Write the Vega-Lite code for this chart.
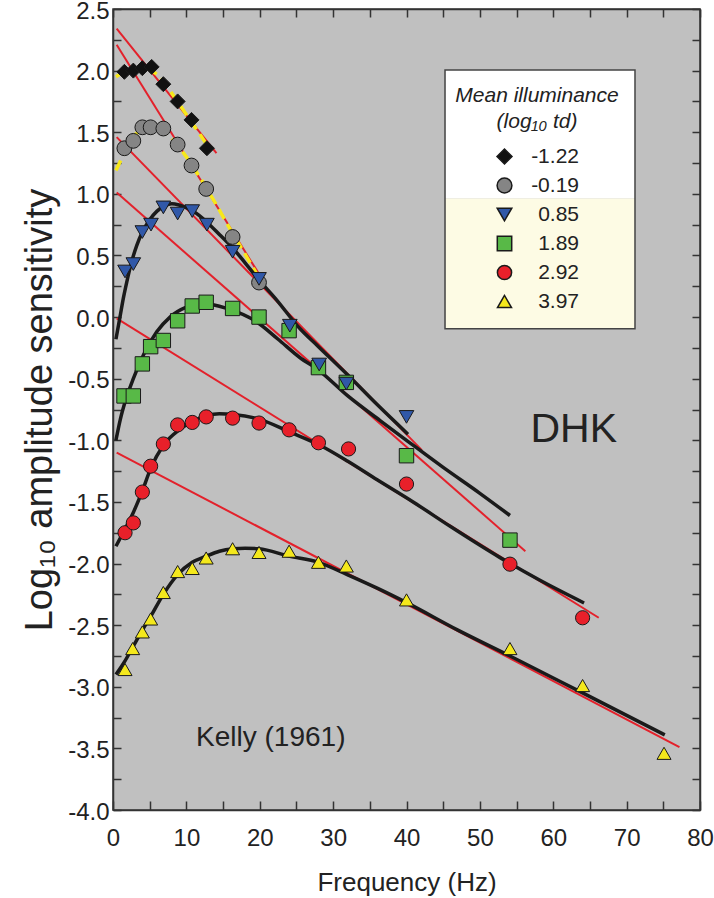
{
  "$schema": "https://vega.github.io/schema/vega-lite/v6.json",
  "width": 587,
  "height": 801,
  "autosize": {"type": "none"},
  "padding": {"left": 113, "top": 9, "right": 14, "bottom": 88},
  "background": "white",
  "config": {
    "font": "Liberation Sans",
    "view": {"fill": "#c0c0c0", "stroke": "#333333", "strokeWidth": 1.5},
    "axis": {"domainColor": "#333333", "domainWidth": 1.5, "tickColor": "#333333", "tickWidth": 1.5, "grid": false, "labelFont": "Liberation Sans", "titleFont": "Liberation Sans", "labelColor": "#222222", "titleColor": "#222222", "titleFontWeight": "normal", "labelFlush": false, "labelOverlap": false}
  },
  "datasets": {
    "red": [
      {"id": "A", "f": 0.5, "s": 2.34}, {"id": "A", "f": 14.1, "s": 1.33},
      {"id": "B", "f": 0.5, "s": 2.21}, {"id": "B", "f": 20.2, "s": 0.32},
      {"id": "C", "f": 0.5, "s": 1.46}, {"id": "C", "f": 42.1, "s": -1.08},
      {"id": "D", "f": 0.5, "s": 1.01}, {"id": "D", "f": 56.2, "s": -1.9},
      {"id": "E", "f": 0.5, "s": -0.01}, {"id": "E", "f": 66.2, "s": -2.44},
      {"id": "F", "f": 0.5, "s": -1.1}, {"id": "F", "f": 77.2, "s": -3.49}
    ],
    "dash": [
      {"id": "A", "f": 0.4, "s": 1.95}, {"id": "A", "f": 1.5, "s": 1.99}, {"id": "A", "f": 3, "s": 2.02}, {"id": "A", "f": 4.5, "s": 2.03}, {"id": "A", "f": 6, "s": 1.97}, {"id": "A", "f": 7.5, "s": 1.86}, {"id": "A", "f": 9, "s": 1.73}, {"id": "A", "f": 10.5, "s": 1.6}, {"id": "A", "f": 12, "s": 1.47}, {"id": "A", "f": 13.2, "s": 1.36},
      {"id": "B", "f": 0.4, "s": 1.19}, {"id": "B", "f": 1.2, "s": 1.29}, {"id": "B", "f": 2, "s": 1.39}, {"id": "B", "f": 3, "s": 1.48}, {"id": "B", "f": 4, "s": 1.53}, {"id": "B", "f": 5, "s": 1.555}, {"id": "B", "f": 6, "s": 1.55}, {"id": "B", "f": 7, "s": 1.51}, {"id": "B", "f": 8, "s": 1.45}, {"id": "B", "f": 9, "s": 1.38}, {"id": "B", "f": 10, "s": 1.3}, {"id": "B", "f": 11, "s": 1.21}, {"id": "B", "f": 12, "s": 1.12}, {"id": "B", "f": 14, "s": 0.92}, {"id": "B", "f": 16, "s": 0.71}, {"id": "B", "f": 18, "s": 0.51}, {"id": "B", "f": 20, "s": 0.31}
    ],
    "black": [
      {"id": "C", "f": 0.4, "s": -0.18}, {"id": "C", "f": 0.95, "s": 0.0}, {"id": "C", "f": 1.4, "s": 0.15}, {"id": "C", "f": 1.86, "s": 0.28}, {"id": "C", "f": 2.5, "s": 0.44}, {"id": "C", "f": 3.23, "s": 0.58}, {"id": "C", "f": 4, "s": 0.69}, {"id": "C", "f": 5, "s": 0.79}, {"id": "C", "f": 6, "s": 0.86}, {"id": "C", "f": 7, "s": 0.9}, {"id": "C", "f": 8, "s": 0.92}, {"id": "C", "f": 9, "s": 0.91}, {"id": "C", "f": 10.9, "s": 0.86}, {"id": "C", "f": 12.8, "s": 0.77}, {"id": "C", "f": 14.5, "s": 0.67}, {"id": "C", "f": 16.4, "s": 0.555}, {"id": "C", "f": 18, "s": 0.44}, {"id": "C", "f": 19.9, "s": 0.3}, {"id": "C", "f": 22, "s": 0.16}, {"id": "C", "f": 25.5, "s": -0.095}, {"id": "C", "f": 28, "s": -0.24}, {"id": "C", "f": 32, "s": -0.47}, {"id": "C", "f": 36, "s": -0.71}, {"id": "C", "f": 40.2, "s": -0.95},
      {"id": "D", "f": 0.4, "s": -1.0}, {"id": "D", "f": 1.0, "s": -0.83}, {"id": "D", "f": 1.64, "s": -0.69}, {"id": "D", "f": 2.77, "s": -0.5}, {"id": "D", "f": 4.13, "s": -0.31}, {"id": "D", "f": 5.96, "s": -0.12}, {"id": "D", "f": 7.77, "s": 0.0}, {"id": "D", "f": 10, "s": 0.08}, {"id": "D", "f": 12.3, "s": 0.11}, {"id": "D", "f": 15.5, "s": 0.07}, {"id": "D", "f": 19.6, "s": -0.04}, {"id": "D", "f": 22.5, "s": -0.18}, {"id": "D", "f": 25.5, "s": -0.33}, {"id": "D", "f": 28, "s": -0.43}, {"id": "D", "f": 32, "s": -0.64}, {"id": "D", "f": 36.4, "s": -0.84}, {"id": "D", "f": 40, "s": -1.0}, {"id": "D", "f": 45, "s": -1.22}, {"id": "D", "f": 50, "s": -1.43}, {"id": "D", "f": 54.1, "s": -1.61},
      {"id": "E", "f": 0.4, "s": -1.86}, {"id": "E", "f": 1.64, "s": -1.72}, {"id": "E", "f": 2.77, "s": -1.585}, {"id": "E", "f": 4.0, "s": -1.41}, {"id": "E", "f": 5.13, "s": -1.23}, {"id": "E", "f": 6.86, "s": -1.04}, {"id": "E", "f": 9.13, "s": -0.91}, {"id": "E", "f": 11, "s": -0.84}, {"id": "E", "f": 12.77, "s": -0.8}, {"id": "E", "f": 14.5, "s": -0.785}, {"id": "E", "f": 16.4, "s": -0.79}, {"id": "E", "f": 20, "s": -0.83}, {"id": "E", "f": 24, "s": -0.93}, {"id": "E", "f": 28.2, "s": -1.04}, {"id": "E", "f": 32, "s": -1.17}, {"id": "E", "f": 36, "s": -1.32}, {"id": "E", "f": 40.9, "s": -1.5}, {"id": "E", "f": 46, "s": -1.7}, {"id": "E", "f": 52.7, "s": -1.95}, {"id": "E", "f": 58, "s": -2.13}, {"id": "E", "f": 64.2, "s": -2.32},
      {"id": "F", "f": 0.4, "s": -2.9}, {"id": "F", "f": 1.64, "s": -2.79}, {"id": "F", "f": 2.77, "s": -2.67}, {"id": "F", "f": 4.0, "s": -2.54}, {"id": "F", "f": 5.13, "s": -2.43}, {"id": "F", "f": 6.86, "s": -2.25}, {"id": "F", "f": 8.81, "s": -2.09}, {"id": "F", "f": 10.8, "s": -1.99}, {"id": "F", "f": 12.7, "s": -1.94}, {"id": "F", "f": 14.5, "s": -1.9}, {"id": "F", "f": 16.4, "s": -1.88}, {"id": "F", "f": 18, "s": -1.875}, {"id": "F", "f": 19.9, "s": -1.88}, {"id": "F", "f": 24, "s": -1.94}, {"id": "F", "f": 28, "s": -1.99}, {"id": "F", "f": 32.3, "s": -2.1}, {"id": "F", "f": 36, "s": -2.2}, {"id": "F", "f": 40, "s": -2.317}, {"id": "F", "f": 47, "s": -2.54}, {"id": "F", "f": 54.1, "s": -2.75}, {"id": "F", "f": 64, "s": -3.05}, {"id": "F", "f": 75.2, "s": -3.39}
    ],
    "pts": [
      {"lum": "-1.22", "f": 1.55, "s": 1.99}, {"lum": "-1.22", "f": 2.77, "s": 2.0}, {"lum": "-1.22", "f": 4.0, "s": 2.02}, {"lum": "-1.22", "f": 5.27, "s": 2.03}, {"lum": "-1.22", "f": 6.86, "s": 1.89}, {"lum": "-1.22", "f": 8.81, "s": 1.75}, {"lum": "-1.22", "f": 10.7, "s": 1.6}, {"lum": "-1.22", "f": 12.8, "s": 1.37},
      {"lum": "-0.19", "f": 1.55, "s": 1.37}, {"lum": "-0.19", "f": 2.77, "s": 1.43}, {"lum": "-0.19", "f": 4.0, "s": 1.54}, {"lum": "-0.19", "f": 5.13, "s": 1.54}, {"lum": "-0.19", "f": 6.86, "s": 1.53}, {"lum": "-0.19", "f": 8.81, "s": 1.4}, {"lum": "-0.19", "f": 10.7, "s": 1.23}, {"lum": "-0.19", "f": 12.7, "s": 1.04}, {"lum": "-0.19", "f": 16.3, "s": 0.65}, {"lum": "-0.19", "f": 19.9, "s": 0.28},
      {"lum": "1.89", "f": 1.5, "s": -0.64}, {"lum": "1.89", "f": 2.77, "s": -0.64}, {"lum": "1.89", "f": 4.0, "s": -0.38}, {"lum": "1.89", "f": 5.13, "s": -0.24}, {"lum": "1.89", "f": 6.86, "s": -0.19}, {"lum": "1.89", "f": 8.81, "s": -0.03}, {"lum": "1.89", "f": 10.8, "s": 0.09}, {"lum": "1.89", "f": 12.7, "s": 0.12}, {"lum": "1.89", "f": 16.3, "s": 0.07}, {"lum": "1.89", "f": 19.9, "s": 0.0}, {"lum": "1.89", "f": 24.0, "s": -0.11}, {"lum": "1.89", "f": 28.0, "s": -0.41}, {"lum": "1.89", "f": 31.8, "s": -0.53}, {"lum": "1.89", "f": 40.0, "s": -1.125}, {"lum": "1.89", "f": 54.1, "s": -1.81},
      {"lum": "2.92", "f": 1.64, "s": -1.75}, {"lum": "2.92", "f": 2.77, "s": -1.67}, {"lum": "2.92", "f": 4.0, "s": -1.42}, {"lum": "2.92", "f": 5.13, "s": -1.21}, {"lum": "2.92", "f": 6.86, "s": -1.03}, {"lum": "2.92", "f": 8.81, "s": -0.875}, {"lum": "2.92", "f": 10.8, "s": -0.855}, {"lum": "2.92", "f": 12.7, "s": -0.81}, {"lum": "2.92", "f": 16.3, "s": -0.82}, {"lum": "2.92", "f": 19.9, "s": -0.86}, {"lum": "2.92", "f": 24.0, "s": -0.915}, {"lum": "2.92", "f": 28.0, "s": -1.02}, {"lum": "2.92", "f": 32.1, "s": -1.07}, {"lum": "2.92", "f": 40.0, "s": -1.355}, {"lum": "2.92", "f": 54.1, "s": -2.005}, {"lum": "2.92", "f": 64.0, "s": -2.44},
      {"lum": "3.97", "f": 1.64, "s": -2.86}, {"lum": "3.97", "f": 2.68, "s": -2.69}, {"lum": "3.97", "f": 4.0, "s": -2.555}, {"lum": "3.97", "f": 5.13, "s": -2.45}, {"lum": "3.97", "f": 6.86, "s": -2.235}, {"lum": "3.97", "f": 8.81, "s": -2.065}, {"lum": "3.97", "f": 10.8, "s": -2.04}, {"lum": "3.97", "f": 12.7, "s": -1.955}, {"lum": "3.97", "f": 16.3, "s": -1.88}, {"lum": "3.97", "f": 19.9, "s": -1.91}, {"lum": "3.97", "f": 24.0, "s": -1.9}, {"lum": "3.97", "f": 28.0, "s": -1.99}, {"lum": "3.97", "f": 31.8, "s": -2.02}, {"lum": "3.97", "f": 40.0, "s": -2.295}, {"lum": "3.97", "f": 54.1, "s": -2.69}, {"lum": "3.97", "f": 64.0, "s": -2.99}, {"lum": "3.97", "f": 75.1, "s": -3.54},
      {"lum": "0.85", "f": 1.64, "s": 0.37}, {"lum": "0.85", "f": 2.77, "s": 0.43}, {"lum": "0.85", "f": 4.0, "s": 0.69}, {"lum": "0.85", "f": 5.18, "s": 0.75}, {"lum": "0.85", "f": 6.86, "s": 0.89}, {"lum": "0.85", "f": 8.81, "s": 0.84}, {"lum": "0.85", "f": 10.8, "s": 0.86}, {"lum": "0.85", "f": 12.8, "s": 0.75}, {"lum": "0.85", "f": 16.3, "s": 0.53}, {"lum": "0.85", "f": 19.9, "s": 0.31}, {"lum": "0.85", "f": 24.1, "s": -0.07}, {"lum": "0.85", "f": 28.1, "s": -0.385}, {"lum": "0.85", "f": 31.8, "s": -0.54}, {"lum": "0.85", "f": 40.0, "s": -0.81}
    ]
  },
  "layer": [
    {
      "data": {"name": "red"},
      "mark": {"type": "line", "color": "#e3212b", "strokeWidth": 2},
      "encoding": {
        "x": {"field": "f", "type": "quantitative", "scale": {"domain": [0, 80], "nice": false, "zero": false},
          "axis": {"orient": "bottom", "values": [0, 5, 10, 15, 20, 25, 30, 35, 40, 45, 50, 55, 60, 65, 70, 75, 80], "tickSize": -9, "labelExpr": "datum.value % 10 === 0 ? datum.label : ''", "labelFontSize": 24, "labelPadding": 25, "title": "Frequency (Hz)", "titleFontSize": 26, "titlePadding": 19}},
        "y": {"field": "s", "type": "quantitative", "scale": {"domain": [-4, 2.5], "nice": false, "zero": false},
          "axis": {"orient": "left", "values": [-4, -3.75, -3.5, -3.25, -3, -2.75, -2.5, -2.25, -2, -1.75, -1.5, -1.25, -1, -0.75, -0.5, -0.25, 0, 0.25, 0.5, 0.75, 1, 1.25, 1.5, 1.75, 2, 2.25, 2.5], "tickSize": -8, "labelExpr": "(datum.value * 2) % 1 === 0 ? replace(format(datum.value, '.1f'), '\u2212', '-') : ''", "labelFontSize": 24, "labelPadding": 12, "labelOffset": 2, "title": "Log\u2081\u2080 amplitude sensitivity", "titleFontSize": 38, "titlePadding": 8}},
        "detail": {"field": "id", "type": "nominal"}
      }
    },
    {
      "data": {"name": "dash"},
      "mark": {"type": "line", "color": "#f7e81a", "strokeWidth": 3.5, "strokeDash": [11, 6]},
      "encoding": {
        "x": {"field": "f", "type": "quantitative", "scale": {"domain": [0, 80], "nice": false, "zero": false},
          "axis": {"orient": "top", "values": [0, 5, 10, 15, 20, 25, 30, 35, 40, 45, 50, 55, 60, 65, 70, 75, 80], "tickSize": -8, "labels": false, "title": null}},
        "y": {"field": "s", "type": "quantitative", "scale": {"domain": [-4, 2.5], "nice": false, "zero": false},
          "axis": {"orient": "right", "values": [-4, -3.75, -3.5, -3.25, -3, -2.75, -2.5, -2.25, -2, -1.75, -1.5, -1.25, -1, -0.75, -0.5, -0.25, 0, 0.25, 0.5, 0.75, 1, 1.25, 1.5, 1.75, 2, 2.25, 2.5], "tickSize": -8, "labels": false, "title": null}},
        "detail": {"field": "id", "type": "nominal"}
      }
    },
    {
      "data": {"name": "black"},
      "mark": {"type": "line", "color": "#1a1a1a", "strokeWidth": 3.5, "interpolate": "monotone"},
      "encoding": {
        "x": {"field": "f", "type": "quantitative", "scale": {"domain": [0, 80], "nice": false, "zero": false}, "axis": null},
        "y": {"field": "s", "type": "quantitative", "scale": {"domain": [-4, 2.5], "nice": false, "zero": false}, "axis": null},
        "detail": {"field": "id", "type": "nominal"}
      }
    },
    {
      "data": {"values": [{}]},
      "mark": {"type": "rect", "fill": "#ffffff"},
      "encoding": {
        "x": {"datum": 45.25, "type": "quantitative", "scale": {"domain": [0, 80], "nice": false, "zero": false}, "axis": null},
        "x2": {"datum": 71.14},
        "y": {"datum": 2.006, "type": "quantitative", "scale": {"domain": [-4, 2.5], "nice": false, "zero": false}, "axis": null},
        "y2": {"datum": 0.962}
      }
    },
    {
      "data": {"values": [{}]},
      "mark": {"type": "rect", "fill": "#fdfbe4"},
      "encoding": {
        "x": {"datum": 45.25, "type": "quantitative", "scale": {"domain": [0, 80], "nice": false, "zero": false}, "axis": null},
        "x2": {"datum": 71.14},
        "y": {"datum": 0.962, "type": "quantitative", "scale": {"domain": [-4, 2.5], "nice": false, "zero": false}, "axis": null},
        "y2": {"datum": -0.095}
      }
    },
    {
      "data": {"values": [{}]},
      "mark": {"type": "rect", "fill": null, "fillOpacity": 0, "stroke": "#444444", "strokeWidth": 1.5},
      "encoding": {
        "x": {"datum": 45.25, "type": "quantitative", "scale": {"domain": [0, 80], "nice": false, "zero": false}, "axis": null},
        "x2": {"datum": 71.14},
        "y": {"datum": 2.006, "type": "quantitative", "scale": {"domain": [-4, 2.5], "nice": false, "zero": false}, "axis": null},
        "y2": {"datum": -0.095}
      }
    },
    {
      "data": {"name": "pts"},
      "mark": {"type": "point", "filled": true, "opacity": 1, "stroke": "#1a1a1a", "strokeWidth": 1},
      "encoding": {
        "x": {"field": "f", "type": "quantitative", "scale": {"domain": [0, 80], "nice": false, "zero": false}, "axis": null},
        "y": {"field": "s", "type": "quantitative", "scale": {"domain": [-4, 2.5], "nice": false, "zero": false}, "axis": null},
        "shape": {"field": "lum", "type": "nominal",
          "scale": {"domain": ["-1.22", "-0.19", "0.85", "1.89", "2.92", "3.97"], "range": ["diamond", "circle", "triangle-down", "square", "circle", "triangle-up"]},
          "legend": {"title": ["Mean illuminance", "(log\u2081\u2080 td)"], "orient": "none", "legendX": 342, "legendY": 76, "padding": 0, "titleFontSize": 21, "titleFontStyle": "italic", "titleFontWeight": "normal", "titleAnchor": "middle", "titleAlign": "center", "titleLineHeight": 26, "titlePadding": 14, "labelFontSize": 21, "labelAlign": "right", "labelOffset": 64, "symbolOffset": 0, "rowPadding": 7, "labelColor": "#222222", "titleColor": "#222222", "fillColor": null, "strokeColor": null}},
        "fill": {"field": "lum", "type": "nominal",
          "scale": {"domain": ["-1.22", "-0.19", "0.85", "1.89", "2.92", "3.97"], "range": ["#111111", "#858585", "#3058a8", "#58b947", "#e8202a", "#f4e81c"]},
          "legend": {"title": ["Mean illuminance", "(log\u2081\u2080 td)"], "orient": "none", "legendX": 342, "legendY": 76, "padding": 0, "titleFontSize": 21, "titleFontStyle": "italic", "titleFontWeight": "normal", "titleAnchor": "middle", "titleAlign": "center", "titleLineHeight": 26, "titlePadding": 14, "labelFontSize": 21, "labelAlign": "right", "labelOffset": 64, "symbolOffset": 0, "rowPadding": 7, "labelColor": "#222222", "titleColor": "#222222", "fillColor": null, "strokeColor": null}},
        "size": {"field": "lum", "type": "nominal",
          "scale": {"domain": ["-1.22", "-0.19", "0.85", "1.89", "2.92", "3.97"], "range": [225, 196, 196, 132, 196, 196]},
          "legend": {"title": ["Mean illuminance", "(log\u2081\u2080 td)"], "orient": "none", "legendX": 342, "legendY": 76, "padding": 0, "titleFontSize": 21, "titleFontStyle": "italic", "titleFontWeight": "normal", "titleAnchor": "middle", "titleAlign": "center", "titleLineHeight": 26, "titlePadding": 14, "labelFontSize": 21, "labelAlign": "right", "labelOffset": 64, "symbolOffset": 0, "rowPadding": 7, "labelColor": "#222222", "titleColor": "#222222", "fillColor": null, "strokeColor": null}}
      }
    },
    {
      "data": {"values": [{}]},
      "mark": {"type": "text", "text": "DHK", "fontSize": 41, "font": "Liberation Sans", "color": "#222222", "align": "center", "baseline": "middle"},
      "encoding": {
        "x": {"datum": 62.8, "type": "quantitative", "scale": {"domain": [0, 80], "nice": false, "zero": false}, "axis": null},
        "y": {"datum": -0.92, "type": "quantitative", "scale": {"domain": [-4, 2.5], "nice": false, "zero": false}, "axis": null}
      }
    },
    {
      "data": {"values": [{}]},
      "mark": {"type": "text", "text": "Kelly (1961)", "fontSize": 28, "font": "Liberation Sans", "color": "#222222", "align": "center", "baseline": "middle"},
      "encoding": {
        "x": {"datum": 21.5, "type": "quantitative", "scale": {"domain": [0, 80], "nice": false, "zero": false}, "axis": null},
        "y": {"datum": -3.415, "type": "quantitative", "scale": {"domain": [-4, 2.5], "nice": false, "zero": false}, "axis": null}
      }
    }
  ]
}
